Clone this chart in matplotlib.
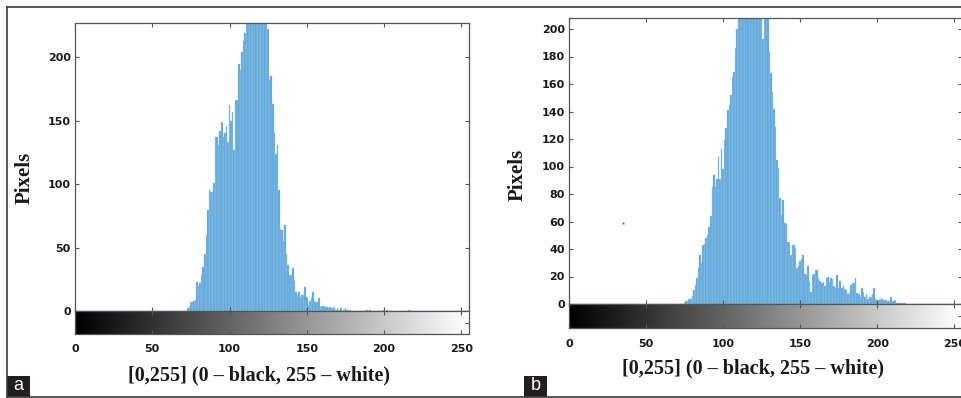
import numpy as np
import matplotlib
matplotlib.use("Agg")
import matplotlib.pyplot as plt
from matplotlib.patches import Rectangle
from matplotlib.lines import Line2D

# histogram counts (bins above the top of the axes are clipped there)
a_start = 73
a_counts = [2, 3, 7, 7, 8, 9, 23, 20, 22, 28, 35, 45, 60, 80, 95, 94, 94, 101, 137, 137,
            131, 142, 149, 137, 140, 146, 133, 162, 150, 157, 127, 166, 166, 195, 190, 204, 213, 219,
            240, 255, 270, 285, 300, 310, 315, 310, 300, 290, 280, 265, 250, 235,
            222, 182, 185, 163, 140, 124, 131, 95, 65, 64, 55, 68, 45, 36, 28, 28, 34, 24,
            15, 13, 15, 11, 13, 13, 19, 11, 5, 8, 10, 15, 8, 7, 7, 10, 3, 4, 4, 3,
            3, 2, 3, 2, 2, 3, 1, 2, 1, 2, 0, 1, 2, 1, 0, 1]
a_sparse_bins = [189, 191, 200, 202, 216]
a_sparse_counts = [1, 1, 1, 1, 1]

b_start = 75
b_counts = [1, 2, 2, 4, 4, 6, 10, 14, 19, 26, 36, 30, 43, 44, 48, 50, 56, 64, 85, 94,
            85, 91, 107, 91, 113, 98, 119, 128, 141, 145, 152, 165, 169, 186, 200,
            215, 230, 245, 260, 275, 290, 300, 305, 300, 290, 280, 270, 255, 240, 225, 215,
            193, 212, 210, 209, 183, 168, 154, 142, 129, 105, 99, 77, 65, 76, 59, 58, 45, 45,
            36, 43, 43, 40, 26, 28, 31, 33, 36, 22, 21, 28, 16, 9, 21, 22, 25, 25, 19, 17,
            15, 16, 13, 19, 20, 16, 19, 18, 13, 12, 21, 12, 17, 12, 13, 11, 10, 7, 8, 14,
            15, 15, 19, 8, 7, 5, 12, 9, 5, 7, 4, 5, 5, 7, 12, 4, 3, 3, 4, 4,
            3, 3, 3, 2, 2, 5, 2, 2, 3, 1, 1, 1, 1, 1, 1]
b_dot = (35, 59)

x_ticks = [0, 50, 100, 150, 200, 250]
a_yticks = [0, 50, 100, 150, 200]
b_yticks = [0, 20, 40, 60, 80, 100, 120, 140, 160, 180, 200]
a_ymax = 227
b_ymax = 208
xlabel_text = "[0,255] (0 \u2013 black, 255 \u2013 white)"
ylabel_text = "Pixels"

W, H = 962, 398
BAR = "#5da5da"
SPINE = "#555555"


def fx(px):
    return px / W


def fy(py):
    return 1 - py / H


def full_hist(start, counts, sparse_bins=(), sparse_counts=()):
    h = np.zeros(256)
    h[start:start + len(counts)] = counts
    h[list(sparse_bins)] = list(sparse_counts)
    return h


def draw_panel(fig, hist, ymax, yticks, left, right, top, zero, cbot, xpad):
    ax = fig.add_axes([fx(left), fy(zero), fx(right) - fx(left), fy(top) - fy(zero)])
    ax.bar(np.arange(256), hist, width=1.0, color=BAR, edgecolor="#9cc9ec", linewidth=0.25)
    ax.set_xlim(0, 255)
    ax.set_ylim(0, ymax)
    ax.set_xticks(x_ticks)
    ax.set_yticks(yticks)
    ax.tick_params(direction="in", top=True, right=True, labelbottom=False,
                   length=3, width=0.8, color=SPINE, labelsize=8, pad=3, labelcolor="#1a1a1a")
    for lab in ax.get_yticklabels():
        lab.set_fontweight("bold")
    for s in ax.spines.values():
        s.set_color(SPINE)
        s.set_linewidth(0.9)

    cax = fig.add_axes([fx(left), fy(cbot), fx(right) - fx(left), fy(zero) - fy(cbot)])
    grad = np.linspace(0, 1, 256)[None, :]
    cax.imshow(grad, cmap="gray", aspect="auto", extent=[0, 255, 0, 1])
    cax.set_xlim(0, 255)
    cax.set_ylim(0, 1)
    cax.set_xticks(x_ticks)
    cax.set_yticks([0.5])
    cax.tick_params(direction="in", top=True, right=True, left=False, labelleft=False,
                    length=3, width=0.8, color=SPINE, labelsize=8, pad=xpad, labelcolor="#1a1a1a")
    for lab in cax.get_xticklabels():
        lab.set_fontweight("bold")
    for s in cax.spines.values():
        s.set_color(SPINE)
        s.set_linewidth(0.9)
    return ax


fig = plt.figure(figsize=(W / 100, H / 100), dpi=100)

hist_a = full_hist(a_start, a_counts, a_sparse_bins, a_sparse_counts)
hist_b = full_hist(b_start, b_counts)

draw_panel(fig, hist_a, a_ymax, a_yticks, 75, 469, 23, 311, 334, 7)
ax_b = draw_panel(fig, hist_b, b_ymax, b_yticks, 569, 962, 18, 304, 328, 8)
ax_b.plot(*b_dot, marker="s", ms=1.5, color="#777777", mec="none")

serif = dict(family="Liberation Serif", weight="bold", color="#1a1a1a")
fig.text(fx(259), fy(375), xlabel_text, ha="center", va="center", fontsize=14.5, **serif)
fig.text(fx(753), fy(368), xlabel_text, ha="center", va="center", fontsize=14.5, **serif)
fig.text(fx(25), fy(178), ylabel_text, ha="center", va="center", rotation=90, fontsize=15, **serif)
fig.text(fx(518), fy(175), ylabel_text, ha="center", va="center", rotation=90, fontsize=15, **serif)

# outer frame
frame = dict(color="#3a3a3a", linewidth=1.2, transform=fig.transFigure)
fig.add_artist(Line2D([fx(7), 1], [fy(7), fy(7)], **frame))
fig.add_artist(Line2D([fx(7), 1], [fy(396.5), fy(396.5)], **frame))
fig.add_artist(Line2D([fx(7), fx(7)], [fy(7), fy(396.5)], **frame))

# panel letters
for x0, letter in [(7, "a"), (524, "b")]:
    fig.add_artist(Rectangle((fx(x0), fy(396.5)), 23 / W, 21 / H, transform=fig.transFigure,
                             facecolor="#231f20", edgecolor="none"))
    fig.text(fx(x0 + 11.5), fy(385.5), letter, color="white", ha="center", va="center",
             fontsize=13, family="Liberation Sans")

fig.savefig("out.png", dpi=100)
